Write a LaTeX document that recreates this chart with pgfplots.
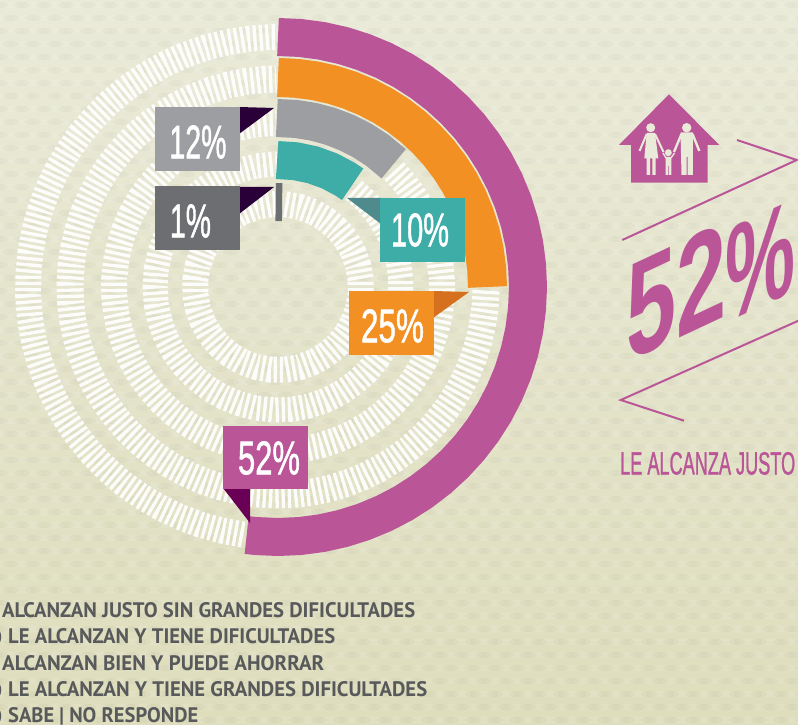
\documentclass[border=0pt]{standalone}
\usepackage{pgfplots}
\pgfplotsset{compat=1.18}
\usepackage{graphicx}
\usepackage{fontspec}
\setmainfont{Liberation Sans}
\newfontfamily\legfont{PT Sans}
\newfontfamily\labfont[FakeBold=1.4]{Liberation Sans}
\definecolor{cpurple}{HTML}{BA5598}
\definecolor{corange}{HTML}{F29024}
\definecolor{cgray}{HTML}{9D9EA2}
\definecolor{cteal}{HTML}{3FADA7}
\definecolor{cdark}{HTML}{6D6E71}
\definecolor{ctext}{HTML}{58595B}
\definecolor{bgtop}{HTML}{EAEAD9}
\definecolor{bgbot}{HTML}{DEDDBC}
\definecolor{fnavy}{HTML}{2A0038}
\definecolor{fteal}{HTML}{4F8B8C}
\definecolor{forange}{HTML}{D4701E}
\definecolor{fpurple}{HTML}{6A0055}
\newcommand{\lab}[4]{\node[text=white,inner sep=0pt] at (#1,#2) {\resizebox{#3pt}{33pt}{\labfont #4}};}
\newcommand{\leg}[4]{\node[anchor=base west,inner sep=0pt,text=ctext] at (#1,#2) {\resizebox{#3pt}{15pt}{\legfont\bfseries #4}};}
\begin{document}
\begin{tikzpicture}
\path[use as bounding box,clip] (0,0) rectangle (798pt,724pt);
\shade[bottom color=bgbot,top color=bgtop] (0,0) rectangle (798pt,724pt);
% woven paper texture
\fill[white,opacity=0.10]
  \foreach \r in {0,...,55}{
    \foreach \c in {0,...,36}{
      ({(\c*22+mod(\r,2)*11)*1pt},{(\r*13+4)*1pt}) ellipse [x radius=9pt,y radius=3.4pt]
    }
  };
\fill[black!60!olive,opacity=0.035]
  \foreach \r in {0,...,55}{
    \foreach \c in {0,...,36}{
      ({(\c*22+mod(\r+1,2)*11)*1pt},{(\r*13+4)*1pt}) ellipse [x radius=8pt,y radius=3pt]
    }
  };
\begin{axis}[at={(0,0)},anchor=south west,scale only axis,width=798pt,height=724pt,
  xmin=-278,xmax=520,ymin=-437,ymax=287,hide axis,clip=false,
  every axis plot/.append style={no marks,line cap=butt,line join=round,data cs=polar}]
% hatched remainders
\addplot[white,opacity=0.92,line width=26pt,dash pattern=on 3.3pt off 2.9pt] coordinates {
(-98,250)(-103,250)(-108,250)(-113,250)(-118,250)(-123,250)(-128,250)(-133,250)(-138,250)(-143,250)(-148,250)(-153,250)(-158,250)(-163,250)(-168,250)(-173,250)(-178,250)(-183,250)(-188,250)(-193,250)(-198,250)(-203,250)(-208,250)(-213,250)(-218,250)(-223,250)(-228,250)(-233,250)(-238,250)(-243,250)(-248,250)(-253,250)(-258,250)(-263,250)(-268,250)(-269.5,250)};
\addplot[white,opacity=0.92,line width=27pt,dash pattern=on 3.3pt off 2.9pt] coordinates {
(-1,208)(-6,208)(-11,208)(-16,208)(-21,208)(-26,208)(-31,208)(-36,208)(-41,208)(-46,208)(-51,208)(-56,208)(-61,208)(-66,208)(-71,208)(-76,208)(-81,208)(-86,208)(-91,208)(-96,208)(-101,208)(-106,208)(-111,208)(-116,208)(-121,208)(-126,208)(-131,208)(-136,208)(-141,208)(-146,208)(-151,208)(-156,208)(-161,208)(-166,208)(-171,208)(-176,208)(-181,208)(-186,208)(-191,208)(-196,208)(-201,208)(-206,208)(-211,208)(-216,208)(-221,208)(-226,208)(-231,208)(-236,208)(-241,208)(-246,208)(-251,208)(-256,208)(-261,208)(-266,208)(-269.5,208)};
\addplot[white,opacity=0.92,line width=26pt,dash pattern=on 3.3pt off 2.9pt] coordinates {
(45,164)(39,164)(33,164)(27,164)(21,164)(15,164)(9,164)(3,164)(-3,164)(-9,164)(-15,164)(-21,164)(-27,164)(-33,164)(-39,164)(-45,164)(-51,164)(-57,164)(-63,164)(-69,164)(-75,164)(-81,164)(-87,164)(-93,164)(-99,164)(-105,164)(-111,164)(-117,164)(-123,164)(-129,164)(-135,164)(-141,164)(-147,164)(-153,164)(-159,164)(-165,164)(-171,164)(-177,164)(-183,164)(-189,164)(-195,164)(-201,164)(-207,164)(-213,164)(-219,164)(-225,164)(-231,164)(-237,164)(-243,164)(-249,164)(-255,164)(-261,164)(-267,164)(-269.5,164)};
\addplot[white,opacity=0.92,line width=25pt,dash pattern=on 3.3pt off 2.9pt] coordinates {
(52,123)(44,123)(36,123)(28,123)(20,123)(12,123)(4,123)(-4,123)(-12,123)(-20,123)(-28,123)(-36,123)(-44,123)(-52,123)(-60,123)(-68,123)(-76,123)(-84,123)(-92,123)(-100,123)(-108,123)(-116,123)(-124,123)(-132,123)(-140,123)(-148,123)(-156,123)(-164,123)(-172,123)(-180,123)(-188,123)(-196,123)(-204,123)(-212,123)(-220,123)(-228,123)(-236,123)(-244,123)(-252,123)(-260,123)(-268,123)(-269.5,123)};
\addplot[white,opacity=0.92,line width=26pt,dash pattern=on 3.3pt off 2.9pt] coordinates {
(85,83)(75,83)(65,83)(55,83)(45,83)(35,83)(25,83)(15,83)(5,83)(-5,83)(-15,83)(-25,83)(-35,83)(-45,83)(-55,83)(-65,83)(-75,83)(-85,83)(-95,83)(-105,83)(-115,83)(-125,83)(-135,83)(-145,83)(-155,83)(-165,83)(-175,83)(-185,83)(-195,83)(-205,83)(-215,83)(-225,83)(-235,83)(-245,83)(-255,83)(-265,83)(-269.5,83)};
% 52 %
\addplot[cpurple,line width=38pt] coordinates {
(90,250)(85,250)(80,250)(75,250)(70,250)(65,250)(60,250)(55,250)(50,250)(45,250)(40,250)(35,250)(30,250)(25,250)(20,250)(15,250)(10,250)(5,250)(0,250)(-5,250)(-10,250)(-15,250)(-20,250)(-25,250)(-30,250)(-35,250)(-40,250)(-45,250)(-50,250)(-55,250)(-60,250)(-65,250)(-70,250)(-75,250)(-80,250)(-85,250)(-90,250)(-95,250)(-97.2,250)};
% 25 %
\addplot[corange,line width=39pt] coordinates {
(90,209.5)(85,209.5)(80,209.5)(75,209.5)(70,209.5)(65,209.5)(60,209.5)(55,209.5)(50,209.5)(45,209.5)(40,209.5)(35,209.5)(30,209.5)(25,209.5)(20,209.5)(15,209.5)(10,209.5)(5,209.5)(0,209.5)};
% 12 %
\addplot[cgray,line width=38pt] coordinates {
(90.4,169)(84,169)(78,169)(72,169)(66,169)(60,169)(54,169)(46.8,169)};
% 10 %
\addplot[cteal,line width=38pt] coordinates {
(90.4,127)(82,127)(74,127)(66,127)(58,127)(54,127)};
% 1 %
\addplot[cdark,line width=38pt] coordinates {(91.6,85)(87.2,85)};
\end{axis}
\begin{scope}[shift={(0pt,724pt)},x=1pt,y=-1pt]
% label boxes and flags
\fill[fnavy] (239,107)--(274,108)--(239,134)--cycle;
\fill[cgray] (154.5,107) rectangle (239.5,171);
\lab{198}{142}{57}{12\%}
\fill[fnavy] (239,187)--(274,187)--(239,214)--cycle;
\fill[cdark] (154.5,186) rectangle (239.5,250);
\lab{190.5}{221}{41}{1\%}
\fill[fteal] (381,198)--(347,198)--(381,224)--cycle;
\fill[cteal] (380,198) rectangle (465,262);
\lab{420}{230}{58}{10\%}
\fill[forange] (433,291)--(469,292)--(433,318)--cycle;
\fill[corange] (349,291) rectangle (434,355);
\lab{392.5}{326}{63}{25\%}
\fill[fpurple] (223,488)--(250,488)--(250,523)--cycle;
\fill[cpurple] (223,426) rectangle (308,489);
\lab{269}{458}{62}{52\%}
% house
\fill[cpurple] (669,94.3)--(619,145)--(631,145)--(631,182.7)--(707.7,182.7)--(707.7,145)--(719.3,145)--cycle;
\begin{scope}[bgtop]
\fill (650.7,127.7) circle (4.5);
\fill (686.7,127.7) circle (4.7);
\fill (668.3,152.7) circle (3.5);
% woman
\fill (646.7,133)--(655,133)--(658.3,158.3)--(655.7,158.3)--(655.7,175)--(652.3,175)--(652.3,158.3)--(650,158.3)--(650,175)--(646.7,175)--(646.7,158.3)--(644.3,158.3)--cycle;
\draw[line width=2pt] (646.7,134)--(639.5,151);
\draw[line width=2pt] (655,134)--(663.5,152);
% man
\fill (680.5,132.5)--(692.8,132.5)--(692.8,175)--(687.6,175)--(687.6,157)--(686.7,157)--(686.7,175)--(681.5,175)--cycle;
\draw[line width=2.4pt] (681.5,134)--(674,152);
\draw[line width=2.4pt] (692.5,134)--(699.3,151);
% child
\fill (665.7,157)--(671.3,157)--(671.3,175)--(668.8,175)--(668.8,166)--(668,166)--(668,175)--(665.7,175)--cycle;
\draw[line width=1.4pt] (666,158)--(663,153);
\draw[line width=1.4pt] (671,158)--(674.5,153);
\end{scope}
% chevrons
\draw[cpurple,line width=2pt] (737,140)--(796.7,160)--(622.3,240);
\draw[cpurple,line width=2pt] (800,320)--(620.7,400)--(684,420.7);
\node[anchor=base west,inner sep=0pt,text=cpurple] at (620,474.5) {\resizebox{175pt}{22.5pt}{\labfont LE ALCANZA JUSTO}};
% legend text
\leg{2}{617.7}{413}{ALCANZAN JUSTO SIN GRANDES DIFICULTADES}
\leg{8}{643.5}{327}{LE ALCANZAN Y TIENE DIFICULTADES}
\leg{2}{670}{322}{ALCANZAN BIEN Y PUEDE AHORRAR}
\leg{8}{696.7}{419}{LE ALCANZAN Y TIENE GRANDES DIFICULTADES}
\leg{8}{722}{190}{SABE \smash{|} NO RESPONDE}
\draw[ctext,line width=1.6pt] (-0.6,632) to[bend left=20] (-0.6,642);
\draw[ctext,line width=1.6pt] (-0.6,685) to[bend left=20] (-0.6,695);
\draw[ctext,line width=1.6pt] (-0.6,711) to[bend left=20] (-0.6,721);
\end{scope}
% big sheared number
\begin{scope}[shift={(626pt,361pt)},cm={1,0.47,0,1,(0,0)}]
\node[anchor=base west,inner sep=0pt,transform shape,text=cpurple] at (0,0) {\resizebox{100pt}{96pt}{\bfseries 52}};
\node[anchor=base west,inner sep=0pt,transform shape,text=cpurple] at (99pt,-7pt) {\resizebox{70pt}{93pt}{\bfseries\%}};
\end{scope}
\end{tikzpicture}
\end{document}
